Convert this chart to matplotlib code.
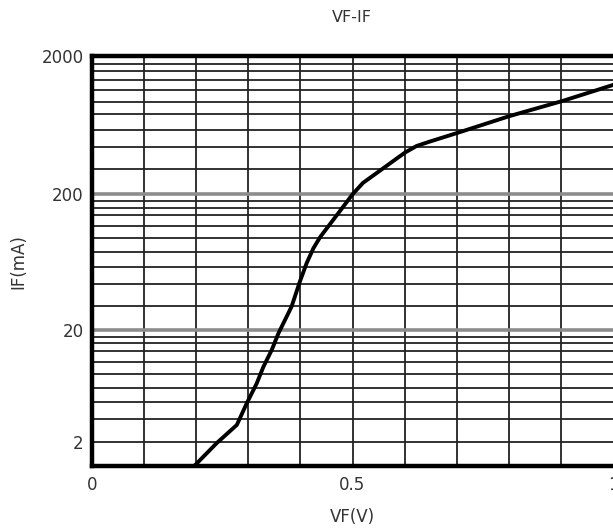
import numpy as np
import matplotlib
matplotlib.use("Agg")
from matplotlib import pyplot as plt

# curve
vf = [0.198, 0.239, 0.278, 0.297, 0.316, 0.329, 0.345, 0.358, 0.383, 0.399,
      0.412, 0.425, 0.438, 0.457, 0.476, 0.50, 0.520, 0.55, 0.585, 0.601,
      0.623, 0.649, 0.702, 0.802, 0.903, 1.0]
if_ma = [0.95, 1.93, 3.08, 4.97, 7.4, 10.2, 13.9, 18.8, 29.9, 46.0,
         63.0, 81.0, 97.9, 121.8, 151.5, 200, 242, 292, 364, 402,
         448, 483, 558, 738, 947, 1236]

# axis ticks and grid
x_ticks = [0, 0.5, 1]
x_tick_labels = ["0", "0.5", "1"]
x_grid = [0.1, 0.2, 0.3, 0.4, 0.5, 0.6, 0.7, 0.8, 0.9]
y_ticks = [2, 20, 200, 2000]
y_tick_labels = ["2", "20", "200", "2000"]
y_major_grid = [20, 200]
y_minor_grid = [2, 3.5, 5.1, 6.8, 8.9, 11.1, 13.7, 15.7, 17.7,
                30, 44, 59, 76, 97, 118, 142, 160, 180,
                307, 437, 586, 757, 938, 1140, 1345, 1560, 1752]
y_min, y_max = 0.915, 2000

# the chart's y axis is not a plain log axis: log10(v + 1.3) fits it well
offset = 1.3


def forward(v):
    return np.log10(np.maximum(v + offset, 1e-6))


def inverse(u):
    return 10 ** u - offset


W, H = 613, 529
fig = plt.figure(figsize=(W / 100, H / 100), dpi=100)
ax = fig.add_axes([92 / W, 63 / H, 1 - 92 / W, 410 / H])

ax.set_yscale("function", functions=(forward, inverse))
ax.set_xlim(0, 1)
ax.set_ylim(y_min, y_max)

for x in x_grid:
    ax.axvline(x, color="#222222", lw=1.3, zorder=1)
for y in y_minor_grid:
    ax.axhline(y, color="#222222", lw=1.3, zorder=1)
for y in y_major_grid:
    ax.axhline(y, color="#8c8c8c", lw=2.6, zorder=2)

ax.plot(vf, if_ma, color="black", lw=2.8, zorder=3, clip_on=False,
        solid_joinstyle="round")

ax.set_xticks(x_ticks)
ax.set_xticklabels(x_tick_labels)
ax.set_yticks(y_ticks)
ax.set_yticklabels(y_tick_labels)
ax.minorticks_off()
ax.tick_params(length=0, labelsize=12, colors="#333333")
ax.tick_params(axis="x", pad=7)
ax.tick_params(axis="y", pad=6)
ax.get_xticklabels()[-1].set_horizontalalignment("center")

for side in ["left", "bottom", "top"]:
    ax.spines[side].set_linewidth(3.2)
    ax.spines[side].set_color("black")
    ax.spines[side].set_zorder(4)
ax.spines["right"].set_visible(False)

fig.text(352 / W, 1 - 18 / H, "VF-IF", fontsize=11.5, color="#333333",
         ha="center", va="center")
fig.text(352 / W, 1 - 517 / H, "VF(V)", fontsize=12, color="#333333",
         ha="center", va="center")
fig.text(18 / W, 1 - 262 / H, "IF(mA)", fontsize=12, color="#333333",
         ha="center", va="center", rotation=90)

fig.savefig("out.png", dpi=100)
